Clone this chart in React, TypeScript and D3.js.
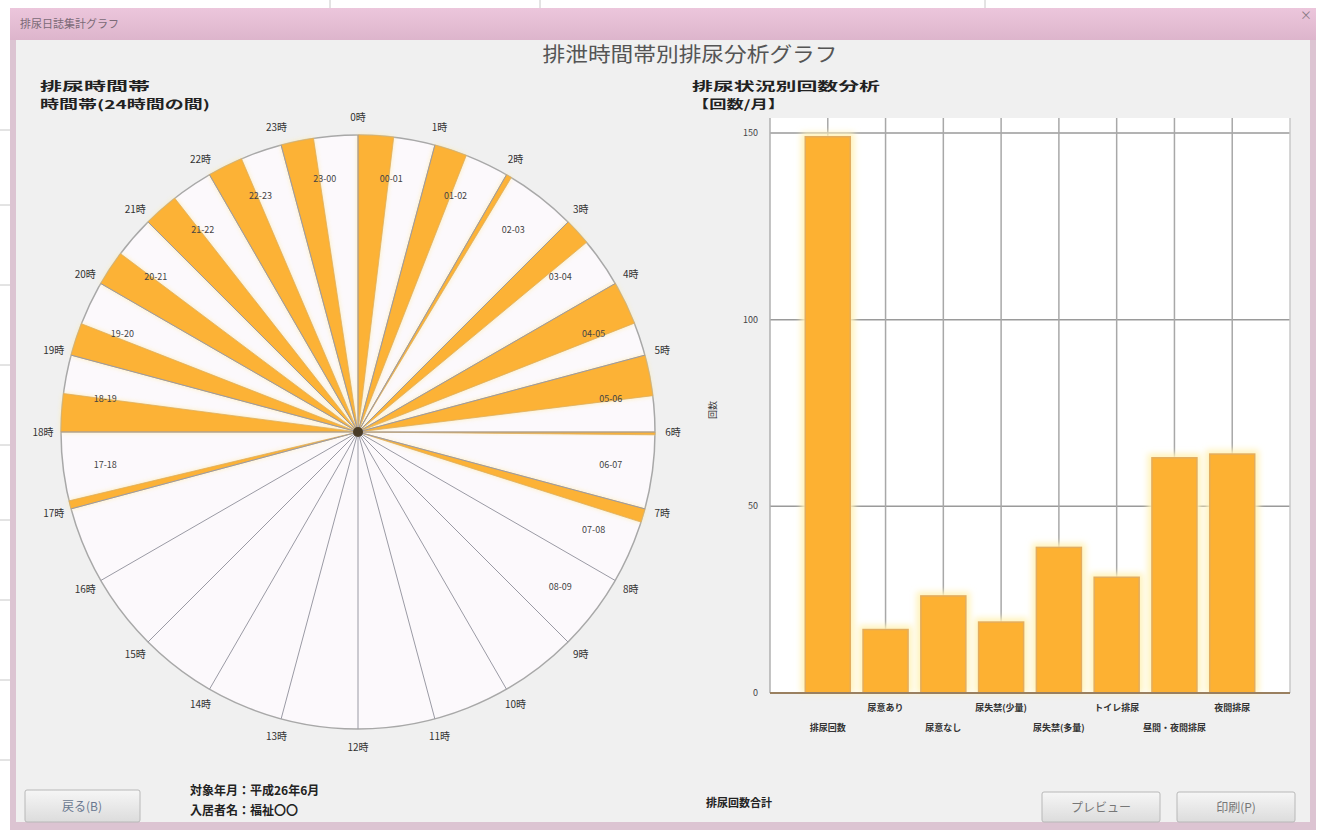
import React from "react";
import * as d3 from "d3";

// ---- data ----
const hours: number[] = d3.range(24);
// urination count per hour (null = no record for that hour)
const hourValues: (number | null)[] = [
  13, 12, 2, 10, 16, 15, 1, 5, 0,
  null, null, null, null, null, null, null, null,
  3, 14, 12, 13, 13, 13, 12,
];
const categories: string[] = [
  "排尿回数", "尿意あり", "尿意なし", "尿失禁(少量)", "尿失禁(多量)", "トイレ排尿", "昼間・夜間排尿", "夜間排尿",
];
const categoryValues: number[] = [149, 17, 26, 19, 39, 31, 63, 64];
const yTicks: number[] = [0, 50, 100, 150];

const W = 1326;
const H = 835;

export default function App() {
  // polar geometry
  const cx = 358, cy = 432, R = 297;
  const deg = Math.PI / 180;
  const widthScale = d3.scaleLinear().domain([0, 16]).range([0, 8.5 * deg]);
  const arc = d3.arc<any>();

  // bar chart geometry
  const x = d3.scaleLinear().domain([0, 9]).range([770, 1290]);
  const y = d3.scaleLinear().domain([0, 150]).range([693, 133]);
  const barW = 45;

  const font = "'Noto Sans CJK JP', 'Noto Sans', sans-serif";

  return (
    <svg width={W} height={H} style={{ position: "absolute", left: 0, top: 0 }} fontFamily={font}>
      <defs>
        <linearGradient id="tbar" x1="0" x2="0" y1="0" y2="1">
          <stop offset="0" stopColor="#ecc6dc" />
          <stop offset="1" stopColor="#ddb5cc" />
        </linearGradient>
        <linearGradient id="btn" x1="0" x2="0" y1="0" y2="1">
          <stop offset="0" stopColor="#f6f6f6" />
          <stop offset="1" stopColor="#dcdcdc" />
        </linearGradient>
        <filter id="glow" x="-40%" y="-10%" width="180%" height="120%">
          <feGaussianBlur stdDeviation="3" />
        </filter>
        <filter id="glowP" x="-20%" y="-20%" width="140%" height="140%">
          <feGaussianBlur stdDeviation="2.5" />
        </filter>
      </defs>

      {/* background spreadsheet */}
      <rect x={0} y={0} width={W} height={H} fill="#ffffff" />
      {[330, 540, 985].map((gx) => (
        <line key={gx} x1={gx} x2={gx} y1={0} y2={8} stroke="#c8c8c8" />
      ))}
      {[130, 205, 285, 365, 445, 520, 600, 680, 760].map((gy) => (
        <line key={gy} x1={0} x2={10} y1={gy} y2={gy} stroke="#c8c8c8" />
      ))}

      {/* window */}
      <rect x={10} y={8} width={1306} height={822} fill="#dcc4d2" />
      <rect x={10} y={8} width={1306} height={32} fill="url(#tbar)" />
      <text x={20} y={28} fontSize={11} fill="#7a6a76">排尿日誌集計グラフ</text>
      <text x={1300} y={20} fontSize={12} fill="#8a7a86">×</text>
      <rect x={16} y={40} width={1294} height={782} fill="#f0f0f0" />

      {/* main title */}
      <text x={690} y={62} fontSize={20} fill="#555" textAnchor="middle" textLength={295} lengthAdjust="spacingAndGlyphs">
        排泄時間帯別排尿分析グラフ
      </text>

      {/* polar chart labels */}
      <text x={40} y={91} fontSize={12} fontWeight="bold" fill="#222" textLength={110} lengthAdjust="spacingAndGlyphs">排尿時間帯</text>
      <text x={40} y={109} fontSize={12} fontWeight="bold" fill="#222" textLength={170} lengthAdjust="spacingAndGlyphs">時間帯(24時間の間)</text>

      {/* polar chart */}
      <circle cx={cx} cy={cy} r={R} fill="#fcf9fc" stroke="#a8a8a8" strokeWidth={1.5} />
      <g transform={`translate(${cx},${cy})`}>
        {hours.map((h) => {
          const v = hourValues[h];
          if (v == null || v <= 0) return null;
          const a0 = h * 15 * deg;
          const a1 = a0 + widthScale(v);
          const d = arc({ innerRadius: 0, outerRadius: R, startAngle: a0, endAngle: a1 }) as string;
          return (
            <g key={h}>
              <path d={d} fill="#ffe9a0" filter="url(#glowP)" opacity={0.9} />
              <path d={d} fill="#fcb236" stroke="#dcae62" strokeWidth={0.8} />
            </g>
          );
        })}
        {hours.map((h) => {
          const a = h * 15 * deg;
          return (
            <line key={h} x1={0} y1={0} x2={R * Math.sin(a)} y2={-R * Math.cos(a)} stroke="#9a9aa4" strokeWidth={1} />
          );
        })}
        <circle r={5} fill="#3a2a10" opacity={0.85} />
        {hours.map((h) => {
          const a = h * 15 * deg;
          return (
            <text key={h} x={315 * Math.sin(a)} y={-315 * Math.cos(a) + 3.5} fontSize={10} fill="#333" textAnchor="middle">
              {`${h}時`}
            </text>
          );
        })}
        {hours.map((h) => {
          if (hourValues[h] == null) return null;
          const a = (h + 0.5) * 15 * deg;
          const h2 = (h + 1) % 24;
          const lbl = `${String(h).padStart(2, "0")}-${String(h2).padStart(2, "0")}`;
          return (
            <text key={h} x={255 * Math.sin(a)} y={-255 * Math.cos(a) + 3} fontSize={9} fill="#444" textAnchor="middle">
              {lbl}
            </text>
          );
        })}
      </g>

      {/* bar chart titles */}
      <text x={692} y={91} fontSize={12} fontWeight="bold" fill="#222" textLength={188} lengthAdjust="spacingAndGlyphs">排尿状況別回数分析</text>
      <text x={692} y={109} fontSize={12} fontWeight="bold" fill="#222" textLength={93} lengthAdjust="spacingAndGlyphs">【回数/月】</text>

      {/* bar chart */}
      <rect x={770} y={118} width={520} height={575} fill="#ffffff" />
      {yTicks.filter((t) => t > 0).map((t) => (
        <line key={t} x1={770} x2={1290} y1={y(t)} y2={y(t)} stroke="#9a9a9a" strokeWidth={1.5} />
      ))}
      {categories.map((c, i) => (
        <line key={c} x1={x(i + 1)} x2={x(i + 1)} y1={118} y2={693} stroke="#a8a8a8" strokeWidth={1.5} />
      ))}
      <line x1={770} x2={770} y1={118} y2={693} stroke="#b0b0b0" strokeWidth={1.5} />
      <line x1={1290} x2={1290} y1={118} y2={693} stroke="#c8c8c8" strokeWidth={1.5} />
      {categories.map((c, i) => {
        const v = categoryValues[i];
        const bx = x(i + 1) - barW / 2;
        return (
          <g key={c}>
            <rect x={bx - 4} y={y(v) - 4} width={barW + 8} height={693 - y(v) + 4} fill="#fff2b8" filter="url(#glow)" />
            <rect x={bx} y={y(v)} width={barW} height={693 - y(v)} fill="#fdb132" stroke="#e2ad60" strokeWidth={1.5} />
          </g>
        );
      })}
      <line x1={770} x2={1290} y1={693} y2={693} stroke="#9a8060" strokeWidth={2} />
      {yTicks.map((t) => (
        <text key={t} x={758} y={y(t) + 3} fontSize={9} fill="#444" textAnchor="end">{t}</text>
      ))}
      <text transform="translate(716,410) rotate(-90)" fontSize={9} fill="#333" textAnchor="middle">回数</text>
      {categories.map((c, i) => (
        <text key={c} x={x(i + 1)} y={i % 2 === 1 ? 711 : 731} fontSize={9} fontWeight="bold" fill="#333" textAnchor="middle">{c}</text>
      ))}

      {/* footer */}
      <text x={190} y={795} fontSize={12} fontWeight="bold" fill="#222">対象年月：平成26年6月</text>
      <text x={190} y={815} fontSize={12} fontWeight="bold" fill="#222">入居者名：福祉〇〇</text>
      <text x={706} y={807} fontSize={11} fontWeight="bold" fill="#222">排尿回数合計</text>

      <rect x={25} y={790} width={115} height={32} rx={2} fill="url(#btn)" stroke="#b8b8b8" />
      <text x={82} y={811} fontSize={12} fill="#6a7890" textAnchor="middle">戻る(B)</text>
      <rect x={1042} y={792} width={118} height={30} rx={2} fill="url(#btn)" stroke="#b8b8b8" />
      <text x={1101} y={812} fontSize={12} fill="#777" textAnchor="middle">プレビュー</text>
      <rect x={1177} y={792} width={118} height={30} rx={2} fill="url(#btn)" stroke="#b8b8b8" />
      <text x={1236} y={812} fontSize={12} fill="#777" textAnchor="middle">印刷(P)</text>
    </svg>
  );
}
